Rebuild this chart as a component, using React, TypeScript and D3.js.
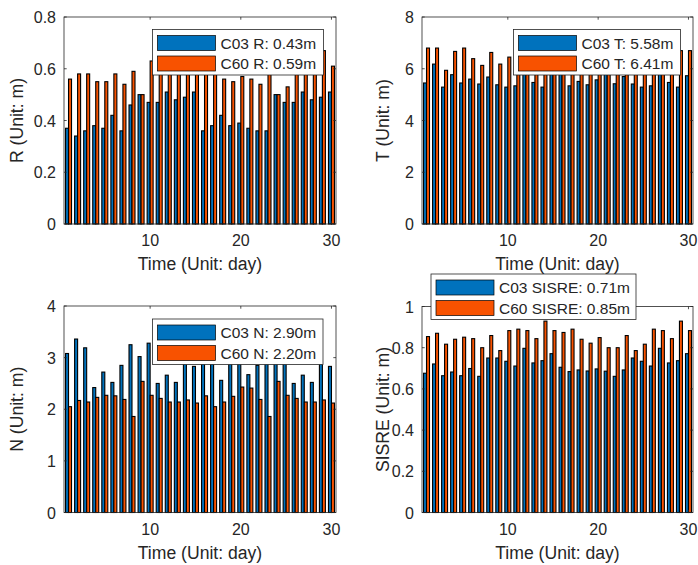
import React from "react";
import * as d3 from "d3";

const days = [1, 2, 3, 4, 5, 6, 7, 8, 9, 10, 11, 12, 13, 14, 15, 16, 17, 18, 19, 20, 21, 22, 23, 24, 25, 26, 27, 28, 29, 30];
const xTicks = [10, 20, 30];

const rC03 = [0.37, 0.34, 0.36, 0.38, 0.37, 0.42, 0.36, 0.46, 0.50, 0.47, 0.47, 0.51, 0.48, 0.49, 0.51, 0.36, 0.38, 0.42, 0.38, 0.39, 0.37, 0.36, 0.36, 0.50, 0.47, 0.47, 0.51, 0.48, 0.49, 0.51];
const rC60 = [0.56, 0.58, 0.58, 0.55, 0.55, 0.58, 0.54, 0.59, 0.50, 0.63, 0.64, 0.66, 0.62, 0.63, 0.65, 0.60, 0.62, 0.56, 0.55, 0.57, 0.56, 0.54, 0.61, 0.50, 0.53, 0.64, 0.66, 0.63, 0.67, 0.61];
const rTicks = [0, 0.2, 0.4, 0.6, 0.8];

const tC03 = [5.45, 6.18, 5.29, 5.77, 5.45, 5.6, 5.41, 5.68, 5.38, 5.29, 5.34, 5.9, 5.47, 5.29, 5.85, 5.95, 5.34, 5.51, 5.38, 5.57, 5.9, 5.42, 5.7, 5.41, 5.29, 5.34, 5.85, 5.47, 5.29, 5.73];
const tC60 = [6.8, 6.8, 5.94, 6.67, 6.8, 6.39, 6.13, 6.63, 6.18, 6.45, 6.3, 6.6, 6.2, 6.1, 6.5, 6.7, 6.2, 6.4, 6.1, 6.3, 6.6, 6.2, 6.5, 6.3, 6.0, 6.2, 6.6, 6.4, 6.7, 6.7];
const tTicks = [0, 2, 4, 6, 8];

const nC03 = [3.08, 3.36, 3.19, 2.42, 2.72, 2.52, 2.85, 3.25, 3.02, 3.28, 2.5, 2.66, 2.52, 3.1, 2.83, 3.2, 3.05, 2.56, 3.15, 3.3, 2.67, 2.85, 3.0, 3.25, 3.1, 2.5, 2.66, 2.52, 3.05, 2.83];
const nC60 = [2.05, 2.17, 2.14, 2.23, 2.27, 2.26, 2.19, 1.86, 2.54, 2.27, 2.21, 2.14, 2.14, 2.18, 2.12, 2.26, 2.05, 2.14, 2.25, 2.43, 2.41, 2.19, 1.86, 2.54, 2.27, 2.21, 2.14, 2.14, 2.18, 2.12];
const nTicks = [0, 1, 2, 3, 4];

const sC03 = [0.676, 0.721, 0.664, 0.682, 0.664, 0.699, 0.661, 0.75, 0.75, 0.734, 0.711, 0.797, 0.726, 0.737, 0.771, 0.705, 0.684, 0.692, 0.687, 0.697, 0.686, 0.661, 0.692, 0.75, 0.734, 0.711, 0.797, 0.726, 0.737, 0.771];
const sC60 = [0.854, 0.87, 0.817, 0.841, 0.851, 0.844, 0.80, 0.859, 0.786, 0.883, 0.89, 0.883, 0.844, 0.929, 0.883, 0.874, 0.89, 0.841, 0.822, 0.849, 0.80, 0.80, 0.859, 0.786, 0.817, 0.89, 0.883, 0.844, 0.929, 0.883];
const sTicks = [0, 0.2, 0.4, 0.6, 0.8, 1];

const legendC03 = ["C03 R: 0.43m", "C03 T: 5.58m", "C03 N: 2.90m", "C03 SISRE: 0.71m"];
const legendC60 = ["C60 R: 0.59m", "C60 T: 6.41m", "C60 N: 2.20m", "C60 SISRE: 0.85m"];
const yLabels = ["R (Unit: m)", "T (Unit: m)", "N (Unit: m)", "SISRE (Unit: m)"];
const xLabel = "Time (Unit: day)";

const BLUE = "#0072BD";
const ORANGE = "#F85200";
const TXT = "#262626";
const FONT = "'Liberation Sans', Arial, Helvetica, sans-serif";

type Panel = {
  a: number[];
  b: number[];
  ymax: number;
  ticks: number[];
  yLabel: string;
  leg: [string, string];
  box: { l: number; r: number; t: number; b: number };
  legBox: { x: number; y: number; w: number; h: number };
  yLabelX: number;
};

const panels: Panel[] = [
  { a: rC03, b: rC60, ymax: 0.8, ticks: rTicks, yLabel: yLabels[0], leg: [legendC03[0], legendC60[0]],
    box: { l: 64, r: 336, t: 17, b: 224 }, legBox: { x: 152.5, y: 29.5, w: 171, h: 45.5 }, yLabelX: 23 },
  { a: tC03, b: tC60, ymax: 8, ticks: tTicks, yLabel: yLabels[1], leg: [legendC03[1], legendC60[1]],
    box: { l: 422, r: 693, t: 17, b: 224 }, legBox: { x: 513.5, y: 29.5, w: 167, h: 45.5 }, yLabelX: 389 },
  { a: nC03, b: nC60, ymax: 4, ticks: nTicks, yLabel: yLabels[2], leg: [legendC03[2], legendC60[2]],
    box: { l: 64, r: 336, t: 306, b: 512.5 }, legBox: { x: 152.5, y: 319, w: 170.5, h: 45.5 }, yLabelX: 23 },
  { a: sC03, b: sC60, ymax: 1, ticks: sTicks, yLabel: yLabels[3], leg: [legendC03[3], legendC60[3]],
    box: { l: 422, r: 693, t: 306.5, b: 512.5 }, legBox: { x: 431, y: 274, w: 205, h: 45.5 }, yLabelX: 389 },
];

function fmt(v: number) {
  return String(Math.round(v * 10) / 10);
}

function PanelView({ p }: { p: Panel }) {
  const x = d3.scaleLinear().domain([0.5, 30.5]).range([p.box.l, p.box.r]);
  const y = d3.scaleLinear().domain([0, p.ymax]).range([p.box.b, p.box.t]);
  const step = x(2) - x(1);
  const bw = step * 0.33;
  const tl = 2.7;
  const lb = p.legBox;
  return (
    <g>
      {days.map((d, i) => (
        <g key={d}>
          <rect x={x(d) - bw} y={y(p.a[i])} width={bw} height={y(0) - y(p.a[i])} fill={BLUE} stroke="#000" strokeWidth={1.1} />
          <rect x={x(d)} y={y(p.b[i])} width={bw} height={y(0) - y(p.b[i])} fill={ORANGE} stroke="#000" strokeWidth={1.1} />
        </g>
      ))}
      <rect x={p.box.l} y={p.box.t} width={p.box.r - p.box.l} height={p.box.b - p.box.t} fill="none" stroke={TXT} strokeWidth={0.8} />
      {xTicks.map((t) => (
        <g key={"x" + t}>
          <line x1={x(t)} x2={x(t)} y1={p.box.b} y2={p.box.b - tl} stroke={TXT} strokeWidth={0.8} />
          <line x1={x(t)} x2={x(t)} y1={p.box.t} y2={p.box.t + tl} stroke={TXT} strokeWidth={0.8} />
          <text x={x(t)} y={p.box.b + 22} textAnchor="middle" fontSize={16} fill={TXT} fontFamily={FONT}>{t}</text>
        </g>
      ))}
      {p.ticks.map((t) => (
        <g key={"y" + t}>
          <line x1={p.box.l} x2={p.box.l + tl} y1={y(t)} y2={y(t)} stroke={TXT} strokeWidth={0.8} />
          <line x1={p.box.r} x2={p.box.r - tl} y1={y(t)} y2={y(t)} stroke={TXT} strokeWidth={0.8} />
          <text x={p.box.l - 8} y={y(t) + 6} textAnchor="end" fontSize={16} fill={TXT} fontFamily={FONT}>{fmt(t)}</text>
        </g>
      ))}
      <text x={(p.box.l + p.box.r) / 2} y={p.box.b + 46} textAnchor="middle" fontSize={17.6} fill={TXT} fontFamily={FONT}>{xLabel}</text>
      <text transform={`translate(${p.yLabelX},${(p.box.t + p.box.b) / 2}) rotate(-90)`} textAnchor="middle" fontSize={17.6} fill={TXT} fontFamily={FONT}>{p.yLabel}</text>
      <g>
        <rect x={lb.x} y={lb.y} width={lb.w} height={lb.h} fill="#fff" stroke={TXT} strokeWidth={0.8} />
        <rect x={lb.x + 5} y={lb.y + 6} width={58} height={15} fill={BLUE} stroke="#000" strokeWidth={0.7} />
        <rect x={lb.x + 5} y={lb.y + 26.5} width={58} height={15} fill={ORANGE} stroke="#000" strokeWidth={0.7} />
        <text x={lb.x + 68} y={lb.y + 19} fontSize={15.5} fill={TXT} fontFamily={FONT}>{p.leg[0]}</text>
        <text x={lb.x + 68} y={lb.y + 39.5} fontSize={15.5} fill={TXT} fontFamily={FONT}>{p.leg[1]}</text>
      </g>
    </g>
  );
}

export default function App() {
  return (
    <svg width={698} height={565} style={{ position: "absolute", left: 0, top: 0, background: "#fff" }}>
      <rect width={698} height={565} fill="#fff" />
      {panels.map((p, i) => (
        <PanelView key={i} p={p} />
      ))}
    </svg>
  );
}
